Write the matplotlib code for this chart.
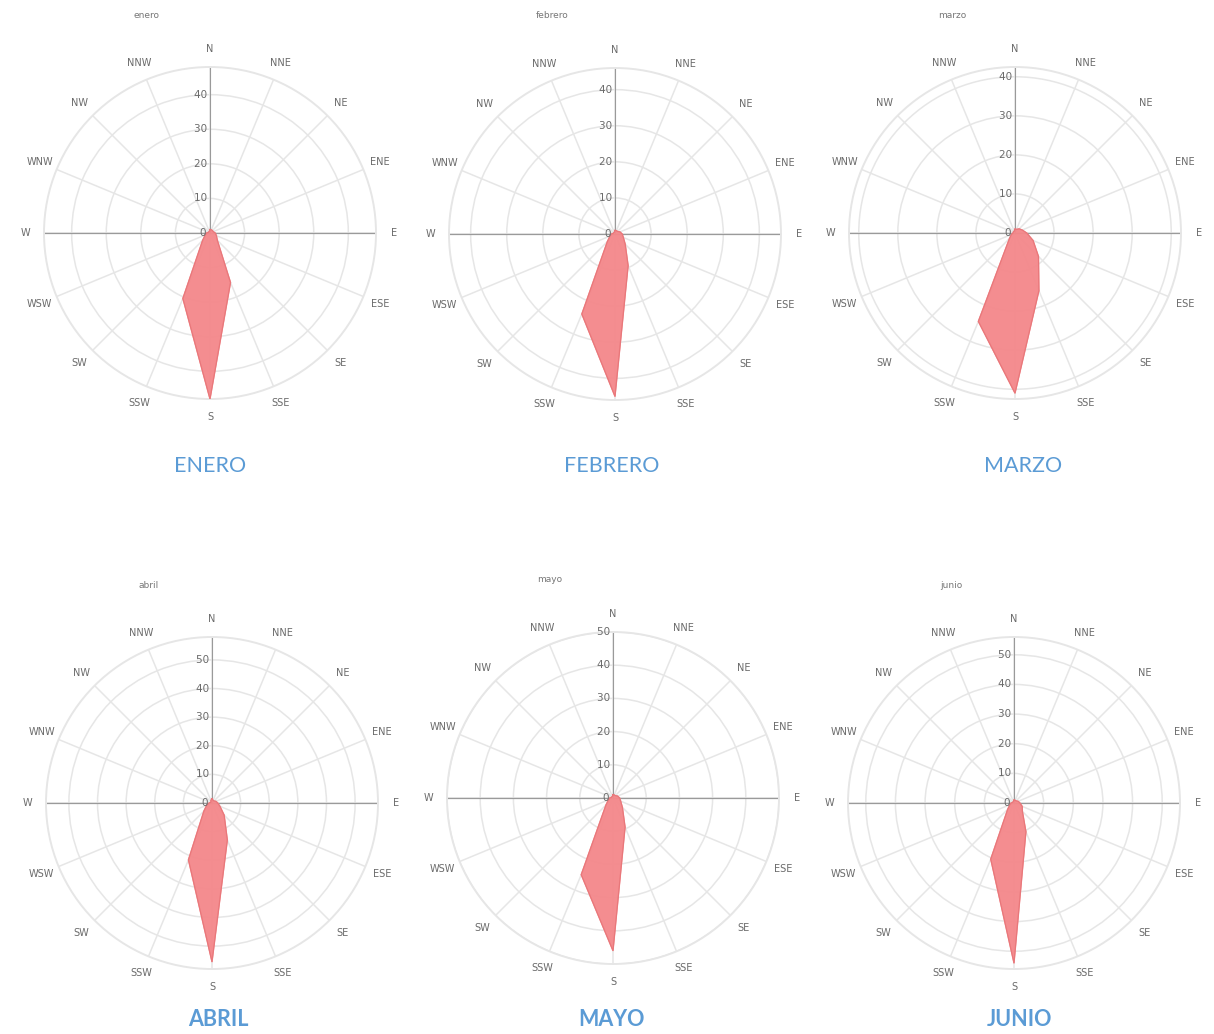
import numpy as np
import matplotlib.pyplot as plt

# 16 compass sectors, clockwise from north
directions = ["N", "NNE", "NE", "ENE", "E", "ESE", "SE", "SSE",
              "S", "SSW", "SW", "WSW", "W", "WNW", "NW", "NNW"]

months = ["enero", "febrero", "marzo", "abril", "mayo", "junio"]
captions = ["ENERO", "FEBRERO", "MARZO", "ABRIL", "MAYO", "JUNIO"]

enero = [1, 1, 1, 1, 1.5, 2, 3, 15.5, 48, 20.5, 3, 1.5, 1, 0.5, 0.5, 0.5]
febrero = [1, 1, 1, 1.5, 2, 2.5, 4, 9.5, 45, 24, 3, 1.5, 1, 0.5, 0.5, 0.5]
marzo = [1, 1, 1.5, 2, 3, 5, 8.5, 16, 41, 24.5, 2, 1, 0.5, 0.5, 0.5, 0.5]
abril = [1.5, 1, 1, 1.5, 2, 3, 6, 14, 55.5, 21.5, 4, 2, 1, 0.5, 0.5, 1]
mayo = [1, 1, 1, 1.5, 2, 2.5, 4, 9.5, 46, 25, 3, 1.5, 1, 0.5, 0.5, 0.5]
junio = [1, 1, 1, 1.5, 2, 3, 4, 10.5, 54, 20.5, 3, 1.5, 1, 0.5, 0.5, 0.5]
series = [enero, febrero, marzo, abril, mayo, junio]

# radial axis range of each rose
r_limits = [48, 46, 42.5, 58, 50, 56]

W, H = 1214, 1034
centers = [(210, 233), (615, 234), (1015, 233),
           (212, 803), (613, 798), (1014, 803)]
R = 166
caption_pos = [(210, 466), (612, 466), (1023, 466),
               (218, 1020), (612, 1020), (1020, 1020)]

fill_col = "#f4878a"
edge_col = "#e8777a"
grid_col = "#e6e6e6"
axis_col = "#9a9a9a"
text_col = "#6a6a6a"
cap_col = "#5b9bd5"

fig = plt.figure(figsize=(W / 100, H / 100), dpi=100)
fig.patch.set_facecolor("white")

theta = np.deg2rad(np.arange(16) * 22.5)

for i in range(6):
    cx, cy = centers[i]
    rmax = r_limits[i]
    ax = fig.add_axes([(cx - R) / W, 1 - (cy + R) / H, 2 * R / W, 2 * R / H],
                      projection="polar")
    ax.set_theta_zero_location("N")
    ax.set_theta_direction(-1)
    ax.set_ylim(0, rmax)

    vals = np.array(series[i], dtype=float)
    t = np.append(theta, theta[0])
    v = np.append(vals, vals[0])
    ax.fill(t, v, color=fill_col, alpha=0.95, zorder=3)
    ax.plot(t, v, color=edge_col, lw=0.8, zorder=4)

    # grid
    ax.set_xticks(theta)
    ax.set_xticklabels([])
    rt = np.arange(0, rmax + 0.01, 10)
    ax.set_yticks(rt)
    ax.set_yticklabels([])
    ax.grid(True, color=grid_col, lw=1.1)
    ax.spines["polar"].set_color(grid_col)
    ax.spines["polar"].set_linewidth(1.4)
    ax.tick_params(length=0)

    # axis lines: E-W through the centre and the radial axis towards N
    ax.plot([np.pi / 2, np.pi / 2], [0, rmax], color=axis_col, lw=0.9, zorder=2)
    ax.plot([3 * np.pi / 2, 3 * np.pi / 2], [0, rmax], color=axis_col, lw=0.9, zorder=2)
    ax.plot([0, 0], [0, rmax], color=axis_col, lw=0.8, zorder=2)

    # radial tick labels just left of the north axis
    for r in rt:
        ax.text(0, r, str(int(r)) + " ", ha="right", va="center",
                fontsize=7.5, color=text_col, zorder=5)

    # direction labels around the rose
    for th, lab in zip(theta, directions):
        ax.text(th, rmax * 1.11, lab, ha="center", va="center",
                fontsize=7, color=text_col, clip_on=False)

    # small month title above each rose
    fig.text((cx - 63) / W, 1 - (cy - 218) / H, months[i], ha="center",
             va="center", fontsize=6.5, color="#777777")

    px, py = caption_pos[i]
    fig.text(px / W, 1 - py / H, captions[i], ha="center", va="center",
             fontsize=15.5, color=cap_col, family="Lato",
             fontweight="bold" if i >= 3 else "normal")

fig.savefig("out.png", dpi=100, facecolor="white")
